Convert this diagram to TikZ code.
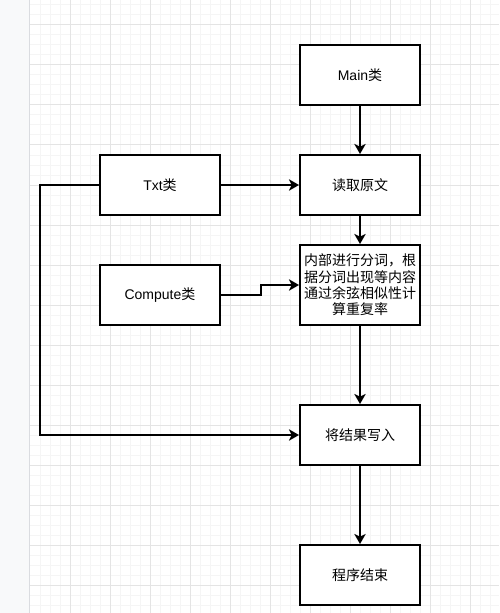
\documentclass[tikz,border=0pt]{standalone}
\usepackage{fontspec}
\setmainfont{Liberation Sans}
\newfontfamily\cjk{Noto Sans CJK SC}
\usetikzlibrary{arrows.meta}
\definecolor{stripbg}{HTML}{F8F9FA}
\definecolor{stripedge}{HTML}{DADCE0}
\definecolor{gridminor}{HTML}{F5F5F5}
\definecolor{gridmajor}{HTML}{E4E4E4}
\tikzset{
  box/.style={draw=black, line width=1.5pt, fill=white, minimum width=90pt, minimum height=45pt, inner sep=0pt, align=center, font=\fontsize{10.5pt}{12.2pt}\selectfont},
  tall/.style={minimum height=60pt},
  conn/.style={line width=1.5pt, -{Stealth[length=7.5pt,width=8.5pt,inset=2pt]}}
}
\begin{document}
\begin{tikzpicture}[x=0.75pt,y=-0.75pt]
\useasboundingbox (0,0) rectangle (499,613);
% background
\fill[white] (0,0) rectangle (499,613);
\foreach \i in {40,50,...,490} \draw[gridminor, line width=0.75pt] (\i,0) -- (\i,613);
\foreach \j in {5,15,...,605} \draw[gridminor, line width=0.75pt] (30,\j) -- (499,\j);
\foreach \i in {70,110,...,470} \draw[gridmajor, line width=0.75pt] (\i,0) -- (\i,613);
\foreach \j in {25,65,...,605} \draw[gridmajor, line width=0.75pt] (30,\j) -- (499,\j);
\fill[stripbg] (0,0) rectangle (29,613);
\draw[stripedge, line width=0.75pt] (29.5,0) -- (29.5,613);
% nodes
\node[box] (main) at (360,75) {Main{\cjk 类}};
\node[box] (read) at (360,185) {{\cjk 读取原文}};
\node[box] (txt) at (160,185) {Txt{\cjk 类}};
\node[box] (comp) at (160,295) {Compute{\cjk 类}};
\node[box, tall] (inner) at (360,285) {\cjk 内部进行分词，根\\\cjk 据分词出现等内容\\\cjk 通过余弦相似性计\\\cjk 算重复率};
\node[box] (write) at (360,435) {{\cjk 将结果写入}};
\node[box] (stop) at (360,575) {{\cjk 程序结束}};
\coordinate (lc) at (40,435);
% connectors
\draw[conn] (main) -- (read);
\draw[conn] (txt) -- (read);
\draw[conn] (read) -- (inner);
\draw[conn] (comp.east) -- ++(40,0) |- (inner.west);
\draw[conn] (inner) -- (write);
\draw[conn] (txt.west) -| (lc) -- (write.west);
\draw[conn] (write) -- (stop);
\end{tikzpicture}
\end{document}
